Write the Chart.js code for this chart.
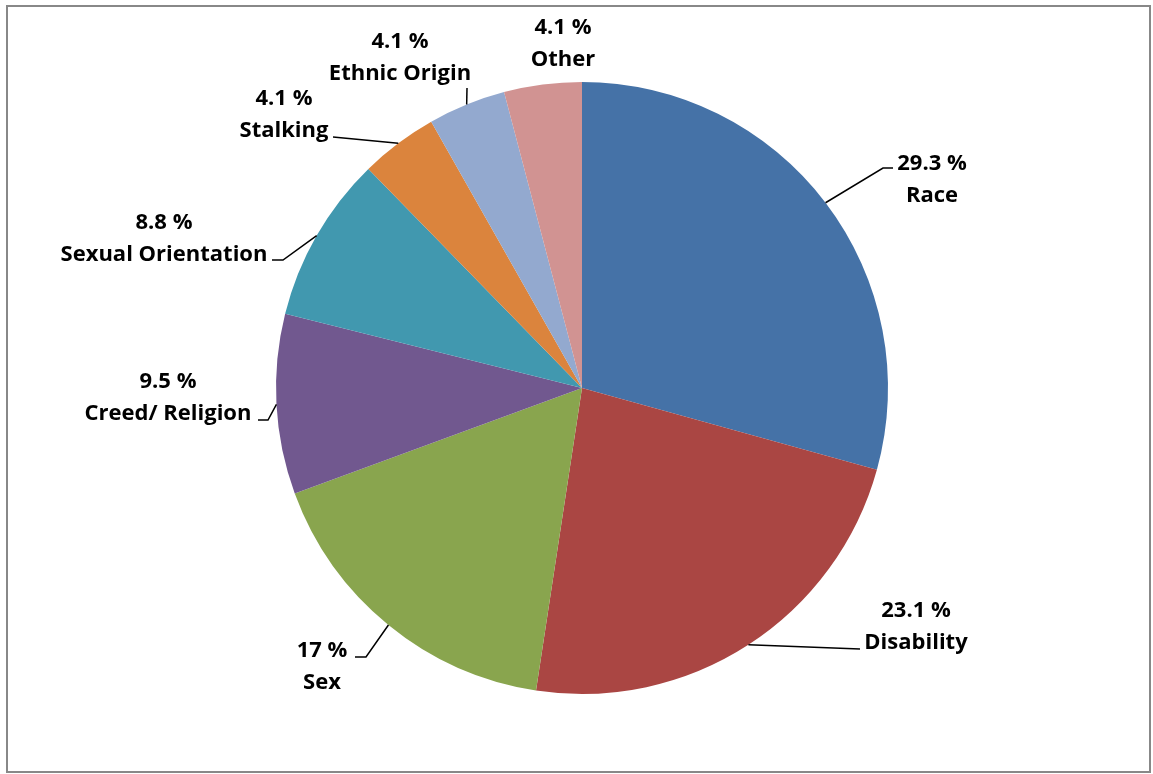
<!DOCTYPE html>
<html>
<head>
<meta charset="utf-8">
<script src="https://cdn.jsdelivr.net/npm/chart.js@4"></script>
<style>
  html, body { margin: 0; padding: 0; background: #fff; }
  canvas { display: block; }
</style>
</head>
<body>
<canvas id="chart" width="1153" height="774"></canvas>
<script>
// Share of cases by ground, in percent
const categories = ['Race', 'Disability', 'Sex', 'Creed/ Religion', 'Sexual Orientation', 'Stalking', 'Ethnic Origin', 'Other'];
const shares = [29.3, 23.1, 17, 9.5, 8.8, 4.1, 4.1, 4.1];
const sliceColors = ['#4572A7', '#AA4643', '#89A54E', '#71588F', '#4198AF', '#DB843D', '#93A9CF', '#D19392'];

// where each two-line label sits (center x, first baseline) and the leader path after leaving the slice
const labelSpots = [
  { x: 932, y: 170, leader: [[883, 168], [893, 168]] },
  { x: 916, y: 617, leader: [[860, 649]] },
  { x: 322, y: 657, leader: [[366, 657], [355, 657]] },
  { x: 168, y: 388, leader: [[268, 420], [258, 420]] },
  { x: 164, y: 229, leader: [[283, 260], [272, 260]] },
  { x: 284, y: 105, leader: [[333, 137]] },
  { x: 400, y: 48, leader: [[467, 88]] },
  { x: 563, y: 34, leader: [] }
];

const FONT = 'bold 22px "Open Sans", Lato, sans-serif';
const LINE_GAP = 32;

const labelPlugin = {
  id: 'sliceLabels',
  beforeDraw(chart) {
    const ctx = chart.ctx;
    ctx.save();
    ctx.fillStyle = '#fff';
    ctx.fillRect(0, 0, chart.width, chart.height);
    ctx.strokeStyle = '#888';
    ctx.lineWidth = 2;
    ctx.strokeRect(7, 6, chart.width - 10, chart.height - 8);
    ctx.restore();
  },
  afterDraw(chart) {
    const ctx = chart.ctx;
    const arcs = chart.getDatasetMeta(0).data;
    ctx.save();
    ctx.strokeStyle = '#000';
    ctx.lineWidth = 1.5;
    arcs.forEach((arc, i) => {
      const p = arc.getProps(['x', 'y', 'startAngle', 'endAngle', 'outerRadius'], true);
      const mid = (p.startAngle + p.endAngle) / 2;
      const spot = labelSpots[i];
      if (spot.leader.length) {
        ctx.beginPath();
        ctx.moveTo(p.x + Math.cos(mid) * p.outerRadius, p.y + Math.sin(mid) * p.outerRadius);
        spot.leader.forEach(([lx, ly]) => ctx.lineTo(lx, ly));
        ctx.stroke();
      }
      ctx.fillStyle = '#000';
      ctx.font = FONT;
      ctx.textAlign = 'center';
      ctx.textBaseline = 'alphabetic';
      ctx.fillText(shares[i] + ' %', spot.x, spot.y);
      ctx.fillText(categories[i], spot.x, spot.y + LINE_GAP);
    });
    ctx.restore();
  }
};

new Chart(document.getElementById('chart'), {
  type: 'pie',
  data: {
    labels: categories,
    datasets: [{
      data: shares,
      backgroundColor: sliceColors,
      borderWidth: 0
    }]
  },
  options: {
    responsive: false,
    animation: false,
    devicePixelRatio: 1,
    layout: { padding: { left: 276, right: 265, top: 82, bottom: 80 } },
    plugins: {
      legend: { display: false },
      tooltip: { enabled: false }
    }
  },
  plugins: [labelPlugin]
});
</script>
</body>
</html>
